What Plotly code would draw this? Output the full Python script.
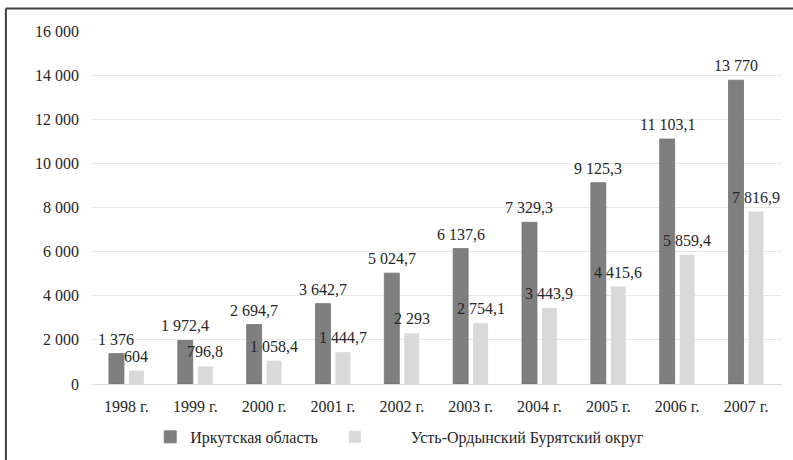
import plotly.graph_objects as go

years = ["1998 г.", "1999 г.", "2000 г.", "2001 г.", "2002 г.",
         "2003 г.", "2004 г.", "2005 г.", "2006 г.", "2007 г."]
irkutsk = [1376, 1972.4, 2694.7, 3642.7, 5024.7, 6137.6, 7329.3, 9125.3, 11103.1, 13770]
ust_orda = [604, 796.8, 1058.4, 1444.7, 2293, 2754.1, 3443.9, 4415.6, 5859.4, 7816.9]
y_ticks = [0, 2000, 4000, 6000, 8000, 10000, 12000, 14000, 16000]
y_ticktext = ["0", "2 000", "4 000", "6 000", "8 000", "10 000", "12 000", "14 000", "16 000"]
name_a = "Иркутская область"
name_b = "Усть-Ордынский Бурятский округ"


def fmt(v):
    if float(v).is_integer():
        s = f"{int(v):,}".replace(",", " ")
    else:
        s = f"{v:,.1f}".replace(",", " ").replace(".", ",")
    return s


FONT = "Liberation Serif"
TXT = "#262626"

fig = go.Figure()
fig.add_trace(go.Bar(x=years, y=irkutsk, name=name_a + "\u00a0" * 3,
                     marker=dict(color="#7f7f7f", line=dict(color="#727272", width=0.8))))
fig.add_trace(go.Bar(x=years, y=ust_orda, name="\u00a0" * 9 + name_b,
                     marker=dict(color="#d9d9d9", line=dict(width=0))))

annotations = []
for cat, a, b in zip(years, irkutsk, ust_orda):
    annotations.append(dict(x=cat, y=a, text=fmt(a), xshift=-10, yshift=4,
                            yanchor="bottom", showarrow=False,
                            font=dict(family=FONT, size=16, color=TXT)))
    annotations.append(dict(x=cat, y=b, text=fmt(b), xshift=10, yshift=4,
                            yanchor="bottom", showarrow=False,
                            font=dict(family=FONT, size=16, color=TXT)))

fig.update_layout(
    width=793, height=460,
    margin=dict(l=92, r=11, t=31, b=76, autoexpand=False),
    paper_bgcolor="white", plot_bgcolor="white",
    font=dict(family=FONT, size=16, color=TXT),
    barmode="group", bargap=0.42, bargroupgap=0.25,
    showlegend=True,
    legend=dict(orientation="h", x=0.446, xanchor="center", y=-0.15, yanchor="middle",
                font=dict(family=FONT, size=16, color=TXT), traceorder="normal"),
    annotations=annotations,
    xaxis=dict(showgrid=False, showline=True, linecolor="#d9d9d9", linewidth=1,
               ticks="", ticklabelstandoff=8, automargin=False,
               tickfont=dict(family=FONT, size=16, color=TXT)),
    yaxis=dict(range=[0, 16000], tickvals=y_ticks, ticktext=y_ticktext,
               showgrid=True, gridcolor="#e8e8e8", gridwidth=1, zeroline=False,
               showline=False, ticks="", ticklabelstandoff=12, automargin=False,
               tickfont=dict(family=FONT, size=16, color=TXT)),
    shapes=[
        dict(type="line", xref="paper", yref="paper", x0=-0.1248, x1=-0.1248,
             y0=1.0637, y1=-0.25, line=dict(color="#404040", width=2)),
        dict(type="line", xref="paper", yref="paper", x0=-0.1248, x1=1.03,
             y0=1.0637, y1=1.0637, line=dict(color="#404040", width=2)),
    ],
)

fig.write_html("out.html")
